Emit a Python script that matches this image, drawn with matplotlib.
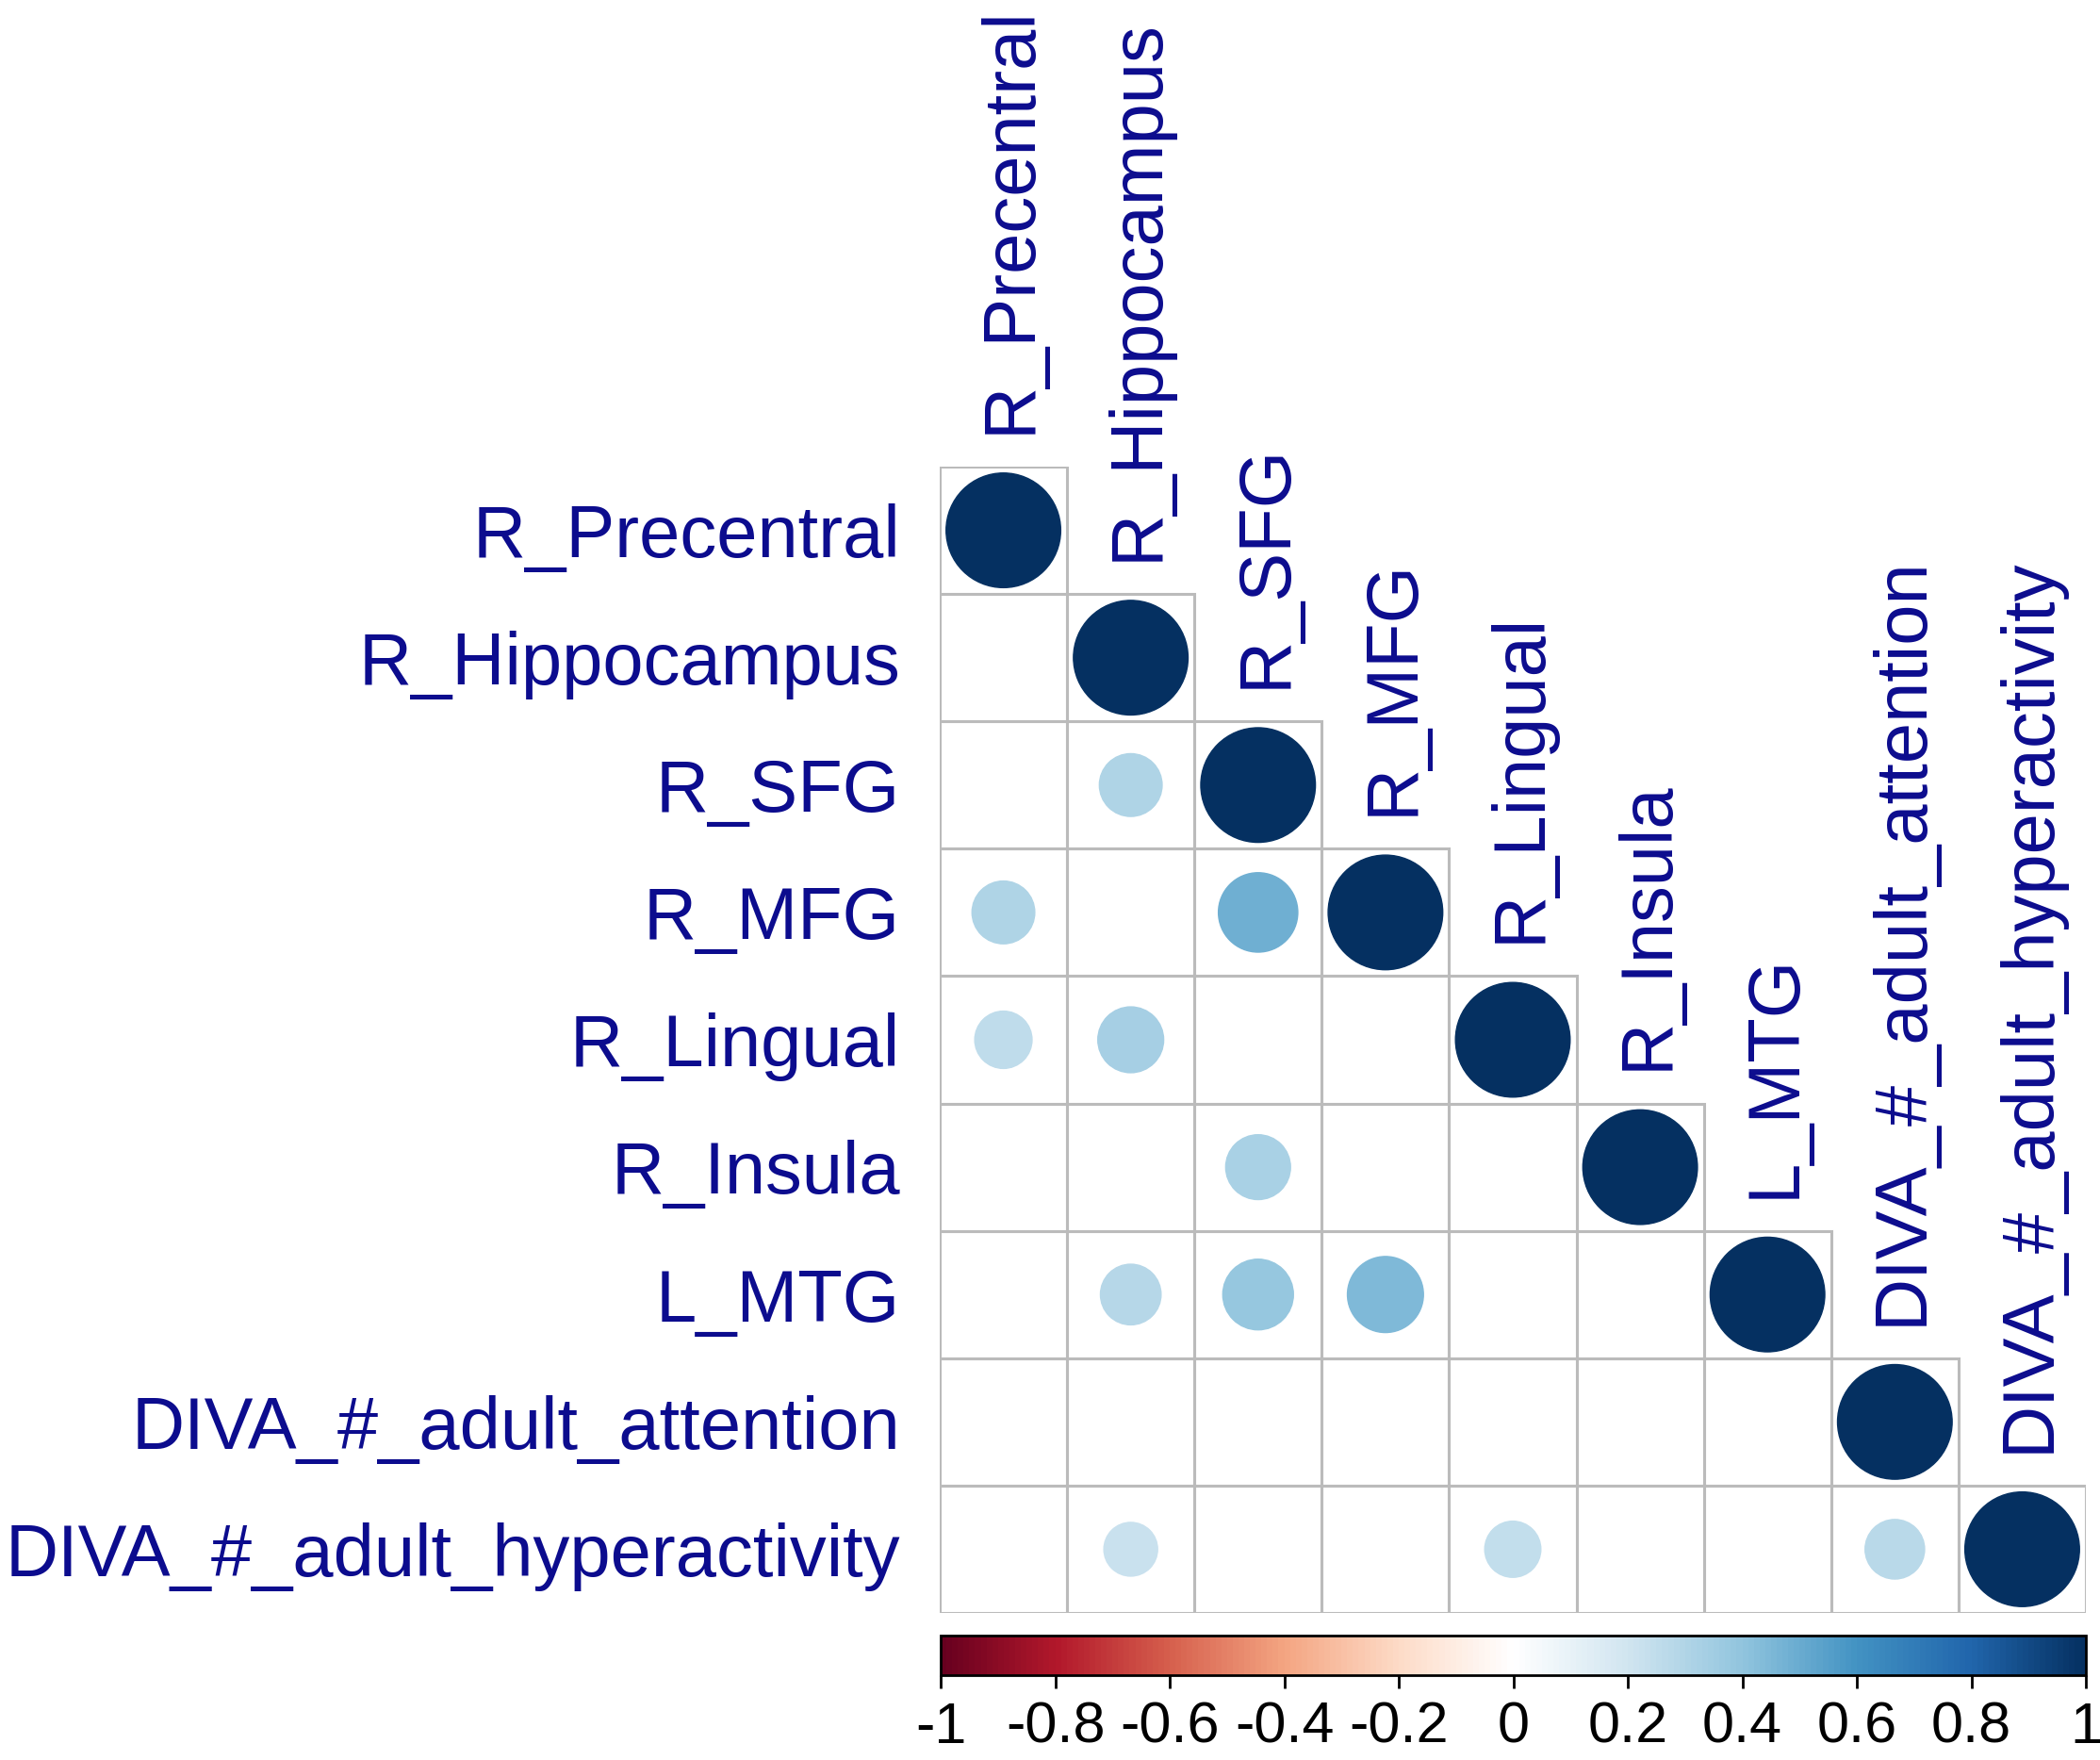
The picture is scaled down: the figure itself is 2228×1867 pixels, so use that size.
import numpy as np
import matplotlib
matplotlib.use("Agg")
import matplotlib.pyplot as plt
from matplotlib.patches import Circle, Rectangle
from matplotlib.colors import LinearSegmentedColormap, Normalize
from matplotlib.cm import ScalarMappable

plt.rcParams['font.family'] = ['Liberation Sans', 'DejaVu Sans']

labels = ["R_Precentral", "R_Hippocampus", "R_SFG", "R_MFG", "R_Lingual",
          "R_Insula", "L_MTG", "DIVA_#_adult_attention", "DIVA_#_adult_hyperactivity"]

# lower-triangle correlations (row i, columns 0..i-1); None = blank (not significant)
row_hippocampus = [None]
row_sfg = [None, 0.30]
row_mfg = [0.30, None, 0.48]
row_lingual = [0.25, 0.33, None, None]
row_insula = [None, None, 0.32, None, None]
row_mtg = [None, 0.28, 0.38, 0.44, None, None]
row_attention = [None, None, None, None, None, None, None]
row_hyper = [None, 0.22, None, None, 0.24, None, None, 0.27]
lower_rows = [[], row_hippocampus, row_sfg, row_mfg, row_lingual,
              row_insula, row_mtg, row_attention, row_hyper]
diag_value = 1.0

cbar_ticks = [-1, -0.8, -0.6, -0.4, -0.2, 0, 0.2, 0.4, 0.6, 0.8, 1]
cbar_ticklabels = ["-1", "-0.8", "-0.6", "-0.4", "-0.2", "0", "0.2", "0.4", "0.6", "0.8", "1"]

rdbu = ["#67001F", "#B2182B", "#D6604D", "#F4A582", "#FDDBC7", "#FFFFFF",
        "#D1E5F0", "#92C5DE", "#4393C3", "#2166AC", "#053061"]
cmap = LinearSegmentedColormap.from_list("corr", rdbu, N=200)
norm = Normalize(-1, 1)

W, H = 2228, 1867
fig = plt.figure(figsize=(W / 100, H / 100), dpi=100)
ax = fig.add_axes([997 / W, 1 - 1711 / H, 1216 / W, 1216 / H])
n = len(labels)
ax.set_xlim(-0.5, n - 0.5)
ax.set_ylim(n - 0.5, -0.5)
ax.set_aspect('equal')
ax.axis('off')

grid_col = '#BBBBBB'
text_col = '#0C0C8E'

# matrix
mat = np.full((n, n), np.nan)
for i, row in enumerate(lower_rows):
    for j, v in enumerate(row):
        if v is not None:
            mat[i, j] = v
    mat[i, i] = diag_value

for i in range(n):
    for j in range(i + 1):
        ax.add_patch(Rectangle((j - 0.5, i - 0.5), 1, 1, fill=False,
                               edgecolor=grid_col, linewidth=2.2, zorder=1))

for i in range(n):
    for j in range(i + 1):
        v = mat[i, j]
        if np.isnan(v):
            continue
        r = 0.45 * np.sqrt(abs(v))
        c = cmap(norm(v))
        ax.add_patch(Circle((j, i), r, facecolor=c, edgecolor=c,
                            linewidth=1.0, zorder=2))

fs = 56
cap = 0.21
for i, lab in enumerate(labels):
    ax.text(-0.5 - 0.31, i + cap, lab, ha='right', va='baseline',
            fontsize=fs, color=text_col, clip_on=False)
    ax.text(i + cap, i - 0.5 - 0.26, lab, ha='left', va='baseline',
            rotation=90, rotation_mode='anchor',
            fontsize=fs, color=text_col, clip_on=False)

# colorbar
cax = fig.add_axes([998 / W, 1 - 1777 / H, 1215 / W, 42 / H])
sm = ScalarMappable(norm=norm, cmap=cmap)
cb = fig.colorbar(sm, cax=cax, orientation='horizontal')
cb.set_ticks(cbar_ticks)
cb.set_ticklabels(cbar_ticklabels)
cb.outline.set_linewidth(2.0)
cb.outline.set_edgecolor('black')
cax.tick_params(axis='x', length=10, width=2, pad=10, labelsize=44, colors='black')

fig.savefig("out.png", dpi=100, facecolor='white')
